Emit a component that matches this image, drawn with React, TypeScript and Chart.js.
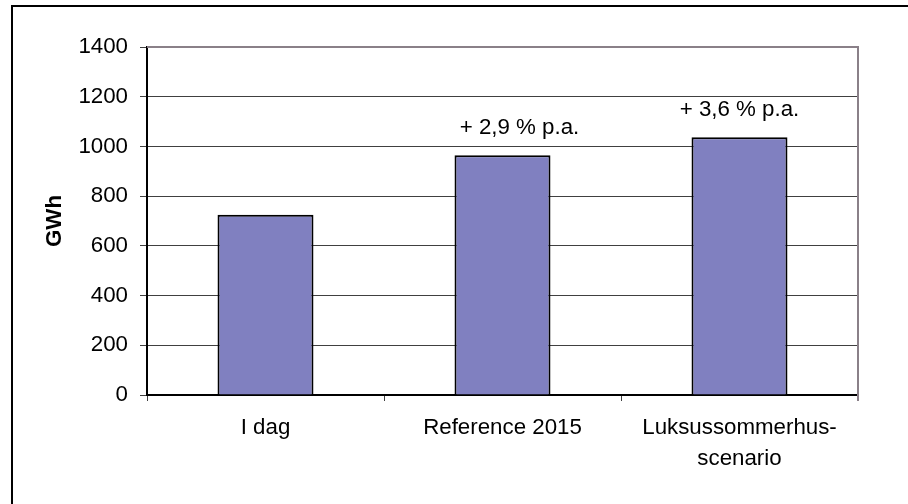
import React, { useEffect, useRef } from "react";
import { Chart, registerables } from "chart.js";

Chart.register(...registerables);

const categories: (string | string[])[] = ["I dag", "Reference 2015", ["Luksussommerhus-", "scenario"]];
const values: number[] = [725, 965, 1037];
const barLabels: string[] = ["", "+ 2,9 % p.a.", "+ 3,6 % p.a."];
const yTicks: number[] = [0, 200, 400, 600, 800, 1000, 1200, 1400];

const FONT = "'Liberation Sans', Arial, sans-serif";
const FS = 22.3;

const barLabelPlugin = {
  id: "barLabels",
  afterDatasetsDraw(chart: any, _args: any, opts: any) {
    const ctx = chart.ctx;
    const meta = chart.getDatasetMeta(0);
    ctx.save();
    ctx.font = `${FS}px ${FONT}`;
    ctx.fillStyle = "#000";
    ctx.textAlign = "center";
    ctx.textBaseline = "alphabetic";
    meta.data.forEach((bar: any, i: number) => {
      const t = barLabels[i];
      if (!t) return;
      const dx = (opts.dx && opts.dx[i]) || 0;
      ctx.fillText(t, bar.x + dx, bar.y - 21);
    });
    ctx.restore();
  },
};

const plotBorderPlugin = {
  id: "plotBorder",
  afterDraw(chart: any) {
    const { ctx, chartArea } = chart;
    ctx.save();
    ctx.strokeStyle = "#8a8088";
    ctx.lineWidth = 2;
    ctx.beginPath();
    ctx.moveTo(chartArea.left, chartArea.top);
    ctx.lineTo(chartArea.right, chartArea.top);
    ctx.lineTo(chartArea.right, chartArea.bottom + 6);
    ctx.stroke();
    ctx.restore();
  },
};

export default function App() {
  const ref = useRef<HTMLCanvasElement | null>(null);
  useEffect(() => {
    if (!ref.current) return;
    const chart = new Chart(ref.current, {
      type: "bar",
      data: {
        labels: categories,
        datasets: [
          {
            data: values,
            backgroundColor: "#8080C0",
            borderColor: "#000000",
            borderWidth: 2,
            categoryPercentage: 1,
            barPercentage: 0.405,
          },
        ],
      },
      options: {
        animation: false,
        responsive: true,
        maintainAspectRatio: false,
        layout: { padding: { left: 0, top: 47, right: 50, bottom: 0 } },
        plugins: {
          legend: { display: false },
          tooltip: { enabled: false },
          barLabels: { dx: [0, 17, 0] },
        } as any,
        scales: {
          x: {
            afterFit: (s: any) => {
              s.height = 109;
            },
            grid: {
              drawOnChartArea: false,
              drawTicks: true,
              tickLength: 6,
              color: "#404040",
              offset: true,
            },
            border: { display: true, color: "#000", width: 2 },
            ticks: {
              color: "#000",
              padding: 12,
              font: { family: FONT, size: FS, lineHeight: 1.36 },
              maxRotation: 0,
              autoSkip: false,
            },
          },
          y: {
            min: 0,
            max: 1400,
            afterFit: (s: any) => {
              s.width = 147;
            },
            afterBuildTicks: (s: any) => {
              s.ticks = yTicks.map((v) => ({ value: v }));
            },
            grid: {
              color: "#404040",
              lineWidth: 1,
              drawTicks: true,
              tickLength: 7,
            },
            border: { display: true, color: "#000", width: 2 },
            ticks: {
              color: "#000",
              padding: 12,
              font: { family: FONT, size: FS },
              callback: (v: any) => String(v),
            },
            title: {
              display: true,
              text: "GWh",
              color: "#000",
              font: { family: FONT, size: FS, weight: "bold", lineHeight: 1.2 },
              padding: { top: 41, bottom: 0 },
            },
          },
        },
      },
      plugins: [barLabelPlugin, plotBorderPlugin],
    });
    return () => chart.destroy();
  }, []);

  return (
    <div
      style={{
        position: "fixed",
        left: 0,
        top: 0,
        width: 908,
        height: 504,
        background: "#fff",
        overflow: "hidden",
      }}
    >
      <canvas ref={ref} style={{ position: "absolute", left: 0, top: 0 }} />
      <div
        style={{
          position: "absolute",
          left: 11,
          top: 5,
          width: 2000,
          height: 2000,
          border: "2px solid #000",
          pointerEvents: "none",
        }}
      />
    </div>
  );
}
